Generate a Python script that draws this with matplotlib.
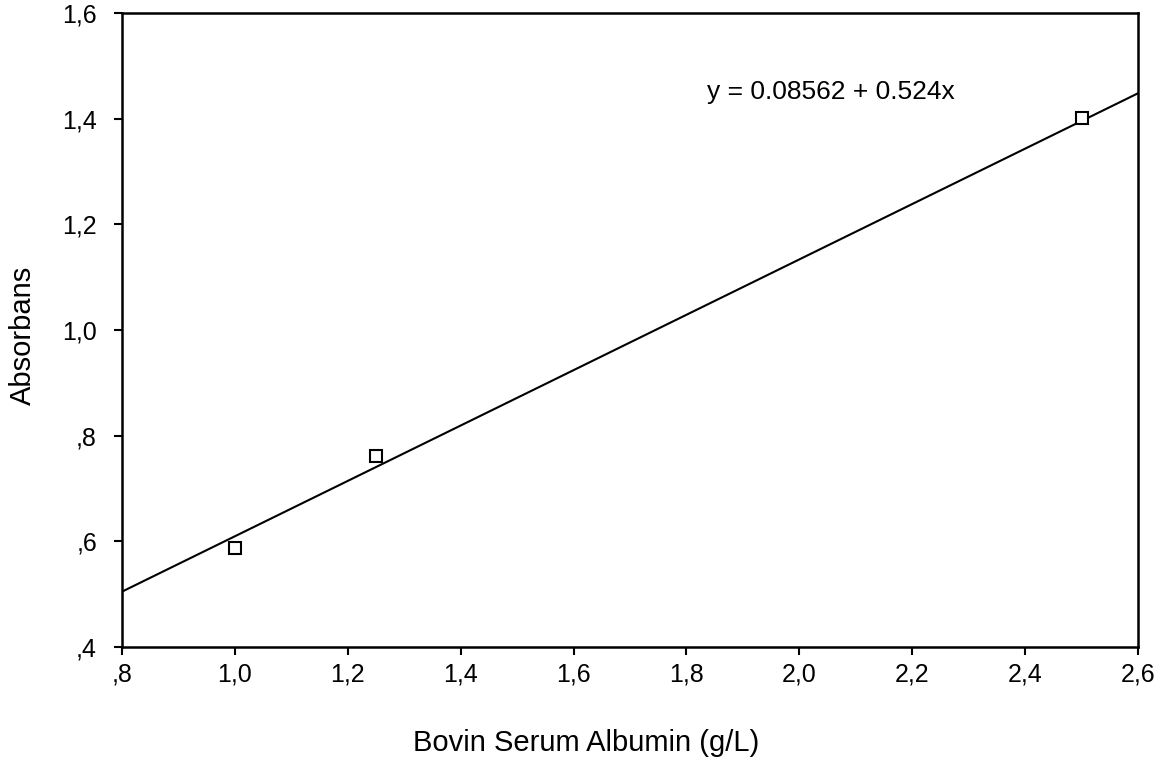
import matplotlib
matplotlib.use("Agg")
import matplotlib.pyplot as plt

plt.rcParams['font.family'] = ['Liberation Sans', 'DejaVu Sans']

# data
bsa = [1.0, 1.25, 2.5]
absorbans = [0.587, 0.761, 1.401]
intercept = 0.08562
slope = 0.524

x_ticks = [0.8, 1.0, 1.2, 1.4, 1.6, 1.8, 2.0, 2.2, 2.4, 2.6]
x_labels = [',8', '1,0', '1,2', '1,4', '1,6', '1,8', '2,0', '2,2', '2,4', '2,6']
y_ticks = [0.4, 0.6, 0.8, 1.0, 1.2, 1.4, 1.6]
y_labels = [',4', ',6', ',8', '1,0', '1,2', '1,4', '1,6']

fig = plt.figure(figsize=(11.63, 7.64), dpi=100)
ax = fig.add_axes([0.1049, 0.1531, 0.8736, 0.8299])

xmin, xmax = x_ticks[0], x_ticks[-1]
ax.plot([xmin, xmax], [intercept + slope * xmin, intercept + slope * xmax],
        color='black', lw=1.5, zorder=2)
ax.plot(bsa, absorbans, linestyle='none', marker='s', markersize=8,
        markerfacecolor='white', markeredgecolor='black', markeredgewidth=1.5, zorder=3)

ax.text(1.836, 1.450, 'y = 0.08562 + 0.524x', fontsize=19, ha='left', va='center')

ax.set_xlim(xmin, xmax)
ax.set_ylim(y_ticks[0], y_ticks[-1])
ax.set_xticks(x_ticks)
ax.set_xticklabels(x_labels)
ax.set_yticks(y_ticks)
ax.set_yticklabels(y_labels)
ax.tick_params(direction='out', length=6, width=1.5, labelsize=18)
ax.tick_params(axis='x', pad=5)
ax.tick_params(axis='y', pad=12)

for s in ax.spines.values():
    s.set_linewidth(1.8)

# axis titles placed where the reference has them
fig.text(586 / 1163, 1 - 743 / 764, 'Bovin Serum Albumin (g/L)', fontsize=21,
         ha='center', va='center')
fig.text(23 / 1163, 1 - 335 / 764, 'Absorbans', fontsize=21, rotation=90,
         ha='center', va='center')

fig.savefig('out.png', dpi=100)
